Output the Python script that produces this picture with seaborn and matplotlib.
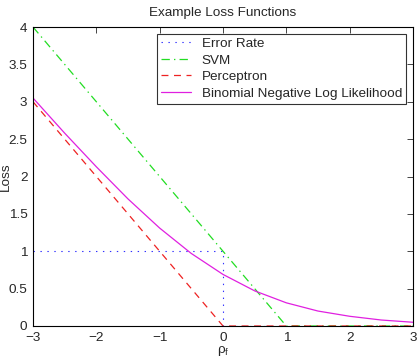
import numpy as np
import pandas as pd
import matplotlib
matplotlib.use('Agg')
import matplotlib.pyplot as plt
import seaborn as sns

# values
err_x = [-3, 0, 0, 3]
err_y = [1, 1, 0, 0]
svm_x = [-3, 1, 3]
svm_y = [4, 0, 0]
perc_x = [-3, 0, 3]
perc_y = [3, 0, 0]
nll_x = [-3, -2.5, -2, -1.5, -1, -0.5, 0, 0.5, 1, 1.5, 2, 2.5, 3]
nll_y = [3.05, 2.58, 2.13, 1.70, 1.31, 0.97, 0.69, 0.47, 0.31, 0.20, 0.13, 0.08, 0.05]

sns.set_style('white')
plt.rcParams['font.family'] = ['Liberation Sans', 'DejaVu Sans']
plt.rcParams['font.size'] = 9.7
plt.rcParams['lines.scale_dashes'] = False

fig = plt.figure(figsize=(4.18, 3.6), dpi=100)
ax = fig.add_axes([33 / 418, 34 / 360, 380 / 418, 299 / 360])

sns.lineplot(x=err_x, y=err_y, ax=ax, color='#3030ff', linestyle=(0, (1, 4)), linewidth=0.8,
             label='Error Rate', sort=False, estimator=None)
sns.lineplot(x=svm_x, y=svm_y, ax=ax, color='#22dd22', linestyle=(0, (6, 3, 1, 3)), linewidth=0.9,
             label='SVM', sort=False, estimator=None)
sns.lineplot(x=perc_x, y=perc_y, ax=ax, color='#ee2222', linestyle=(0, (5, 4)), linewidth=0.9,
             label='Perceptron', sort=False, estimator=None)
sns.lineplot(x=nll_x, y=nll_y, ax=ax, color='#e020e0', linestyle='-', linewidth=0.9,
             label='Binomial Negative Log Likelihood', sort=False, estimator=None)

ax.set_xlim(-3, 3)
ax.set_ylim(0, 4)
ax.set_xticks([-3, -2, -1, 0, 1, 2, 3])
ax.set_xticklabels(['\u22123', '\u22122', '\u22121', '0', '1', '2', '3'])
ax.set_yticks([0, 0.5, 1, 1.5, 2, 2.5, 3, 3.5, 4])
ax.set_yticklabels(['0', '0.5', '1', '1.5', '2', '2.5', '3', '3.5', '4'])
ax.tick_params(direction='in', top=True, right=True, length=4, width=0.6, labelsize=9.7, pad=4)
for s in ax.spines.values():
    s.set_linewidth(0.8)
    s.set_color('black')

ax.set_title('Example Loss Functions', fontsize=9.7, pad=8)
ax.set_xlabel('\u03c1$_{\\mathregular{f}}$', fontsize=9.7, labelpad=0)
ax.set_ylabel('Loss', fontsize=9.7)
ax.yaxis.set_label_coords(-0.055, 0.5)

leg = ax.legend(loc='upper right', fontsize=9.7, frameon=True, fancybox=False,
                edgecolor='black', borderpad=0.3, labelspacing=0.3, handlelength=2.2,
                handletextpad=0.8, borderaxespad=0.5)
leg.get_frame().set_linewidth(0.8)

fig.savefig('out.png', dpi=100)
